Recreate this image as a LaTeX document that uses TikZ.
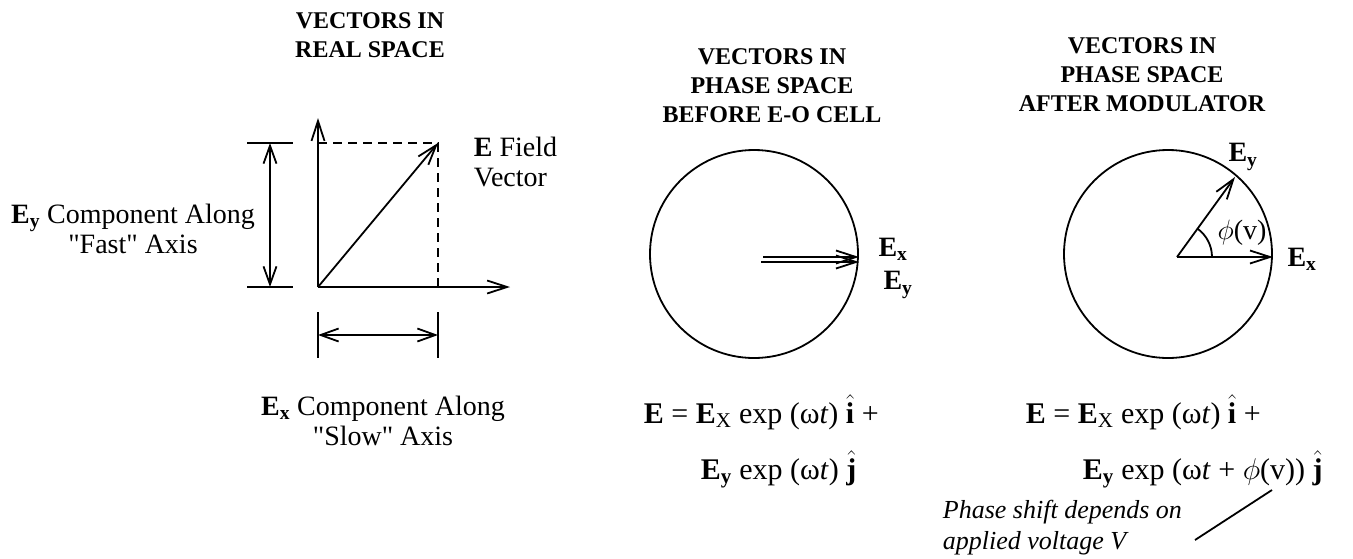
\documentclass[tikz,border=0pt]{standalone}
\usepackage{fix-cm}
\usepackage{amsmath}
\usepackage{fontspec}
\setmainfont{Liberation Serif}
\usetikzlibrary{arrows.meta}

\newcommand{\unitv}[1]{\ensuremath{\hat{\textbf{#1}}}}

\begin{document}
\begin{tikzpicture}[x=1pt, y=-1pt, line width=1.8pt,
        tip/.style = {-{Straight Barb[length=20pt,width=13pt]}},
        dimline/.style = {{Straight Barb[length=18pt,width=13pt]}-{Straight Barb[length=18pt,width=13pt]}},
        ring/.style = {draw, circle, minimum size=208pt, inner sep=0pt},
        title/.style = {align=center, font=\fontsize{24}{29}\selectfont\bfseries},
        lbl/.style = {font=\fontsize{28}{30}\selectfont},
        vlbl/.style = {font=\fontsize{28}{30}\selectfont\bfseries},
        eqn/.style = {anchor=base west, inner sep=0pt, font=\fontsize{30}{32}\selectfont},
        note/.style = {align=left, inner sep=0pt, anchor=west, font=\fontsize{26}{31}\selectfont\itshape}]
    \useasboundingbox (0,0) rectangle (1353,558);

    \node[title] (ttlA) at (370,35) {VECTORS IN\\REAL SPACE};
    \node[title] (ttlB) at (772,86) {VECTORS IN\\PHASE SPACE\\BEFORE E-O CELL};
    \node[title] (ttlC) at (1142,75) {VECTORS IN\\PHASE SPACE\\AFTER MODULATOR};

    \coordinate (O) at (318,287);
    \coordinate (Yend) at (318,118);
    \coordinate (Xend) at (510,287);
    \coordinate (E) at (438,143);
    \coordinate (Ey) at (318,143);
    \coordinate (Ex) at (438,287);
    \draw[tip] (O) -- (Yend);
    \draw[tip] (O) -- (Xend);
    \draw[tip] (O) -- (E);
    \draw[dash pattern=on 9pt off 6pt] (Ey) -- (E) -- (Ex);

    \coordinate (dyA) at (270,143);
    \coordinate (dyB) at (270,287);
    \draw[dimline] (dyA) -- (dyB);
    \draw ([xshift=-23pt]dyA) -- ([xshift=23pt]dyA);
    \draw ([xshift=-23pt]dyB) -- ([xshift=23pt]dyB);

    \coordinate (dxA) at (318,335);
    \coordinate (dxB) at (438,335);
    \draw[dimline] (dxA) -- (dxB);
    \draw ([yshift=23pt]dxA) -- ([yshift=-23pt]dxA);
    \draw ([yshift=23pt]dxB) -- ([yshift=-23pt]dxB);

    \node[lbl, align=left, anchor=west, inner sep=0pt] (fieldTxt) at (473,162) {\textbf{E} Field\\Vector};
    \node[lbl, align=center] (fastTxt) at (133,229) {\textbf{E}\textsubscript{\textbf{y}} Component Along\\\textquotedbl Fast\textquotedbl{} Axis};
    \node[lbl, align=center] (slowTxt) at (383,421) {\textbf{E}\textsubscript{\textbf{x}} Component Along\\\textquotedbl Slow\textquotedbl{} Axis};

    \node[ring] (cB) at (754,254) {};
    \coordinate (bOx) at (763,257);
    \coordinate (bOy) at (761,262);
    \draw[tip] (bOx) -- (bOx -| cB.east);
    \draw[tip] (bOy) -- (bOy -| cB.east);
    \node[vlbl] (bEx) at (893,249) {E\textsubscript{x}};
    \node[vlbl] (bEy) at (898,285) {E\textsubscript{y}};

    \node[ring] (cC) at (1168,254) {};
    \coordinate (cO) at (1177,257);
    \coordinate (cEx) at (cO -| cC.east);
    \coordinate (cEy) at (1235,177);
    \draw[tip] (cO) -- (cEx);
    \draw[tip] (cO) -- (cEy);
    \draw ([xshift=35pt]cO) arc[start angle=0, end angle=54, radius=35pt];
    \node[lbl] (phiLbl) at (1242,233) {$\phi$(v)};
    \node[vlbl] (cEyLbl) at (1243,157) {E\textsubscript{y}};
    \node[vlbl] (cExLbl) at (1302,259) {E\textsubscript{x}};

    \node[eqn] (eqB1) at (643,423) {\textbf{E} = \textbf{E}\textsubscript{X} exp (ω\textit{t}) \unitv{i} +};
    \node[eqn] (eqB2) at (700,479) {\textbf{E}\textsubscript{\textbf{y}} exp (ω\textit{t}) \unitv{j}};
    \node[eqn] (eqC1) at (1025,423) {\textbf{E} = \textbf{E}\textsubscript{X} exp (ω\textit{t}) \unitv{i} +};
    \node[eqn] (eqC2) at (1082,479) {\textbf{E}\textsubscript{\textbf{y}} exp (ω\textit{t} + $\phi$(v)) \unitv{j}};

    \node[note] (phaseTxt) at (942,528) {Phase shift depends on\\applied voltage V};
    \coordinate (phA) at (1195,540);
    \coordinate (phB) at (1272,490);
    \draw (phA) -- (phB);
\end{tikzpicture}
\end{document}
